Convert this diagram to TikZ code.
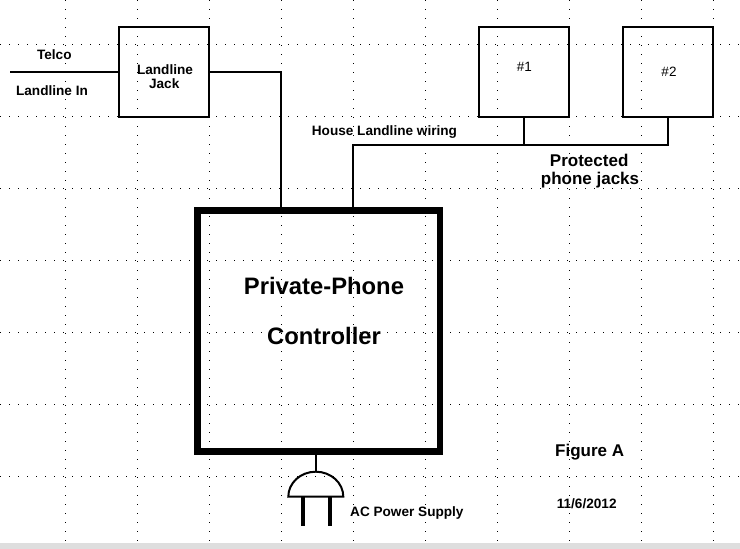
\documentclass[tikz,border=0pt]{standalone}
\usepackage{fontspec}
\setmainfont{Liberation Sans}
\usepackage{tikz}
\usetikzlibrary{positioning}

\tikzset{
  gridline/.style={line width=1.2pt, black, dash pattern=on 1.2pt off 7.8pt},
  wire/.style={line width=2pt},
  jackbox/.style={draw, line width=2pt, minimum size=90pt, inner sep=0pt},
  lbl/.style={font=\bfseries\fontsize{13.6}{14.3}\selectfont, inner sep=0pt, anchor=base},
  numlbl/.style={font=\fontsize{13.5}{14}\selectfont, inner sep=0pt, anchor=base},
  mid/.style={font=\bfseries\fontsize{17}{18}\selectfont, inner sep=0pt, anchor=base},
  big/.style={font=\bfseries\fontsize{23.8}{25}\selectfont, inner sep=0pt, anchor=base}
}

\begin{document}
\begin{tikzpicture}[x=1pt, y=-1pt]
        \useasboundingbox (0,0) rectangle (740,549);
        \fill[white] (0,0) rectangle (740,549);
        % dotted grid
        \foreach \gx in {0,...,9}
          \draw[gridline] (65.2+72*\gx,0) -- (65.2+72*\gx,543);
        \foreach \gy in {0,...,6}
          \draw[gridline] (0,44.7+72*\gy) -- (740,44.7+72*\gy);
        \fill[black!13] (0,543.3) rectangle (740,549);

        % jacks
        \node[jackbox] (jack) at (164.2,71.7) {};
        \node[jackbox] (jk1) at (524,71.7) {};
        \node[jackbox] (jk2) at (668.3,71.7) {};
        \node[draw, line width=6.5pt, minimum width=242.5pt, minimum height=241pt] (ctrl) at (318.75,331) {};

        \coordinate (telco) at (10,71.7);
        \coordinate (wa) at (281,71.7);
        \coordinate (hb) at (353.3,145);
        \coordinate (hj) at (668.3,145);
        \coordinate (plug) at (315.8,496.7);
        \coordinate (plugtop) at (315.8,471.7);

        % wiring
        \draw[wire] (telco) -- (jack.west);
        \draw[wire] (jack.east) -| (ctrl.north -| wa);
        \draw[wire] (ctrl.north -| hb) |- (hj) -- (jk2.south);
        \draw[wire] (jk1.south) -- (jk1.south |- hb);

        % plug
        \draw[wire] (ctrl.south -| plug) -- (plugtop);
        \draw[wire] (plug) ++(27.5,0) arc[start angle=0, end angle=180, x radius=27.5pt, y radius=25pt] -- cycle;
        \draw[line width=4pt] (plug) ++(-12.5,0) -- ++(0,29.3);
        \draw[line width=4pt] (plug) ++(14.2,0) -- ++(0,29.3);

        % labels
        \node[lbl] (telcotxt) at (54.3,59) {Telco};
        \node[lbl] (intxt) at (52,95.7) {Landline In};
        \node[lbl] (jacktxt) at (165,74) {Landline};
        \node[lbl] (jacktxt2) at (164.2,88.3) {Jack};
        \node[numlbl] (jk1txt) at (524.3,71) {\#1};
        \node[numlbl] (jk2txt) at (669,76) {\#2};
        \node[lbl, anchor=base west] (housetxt) at (311.7,135) {House Landline wiring};
        \node[mid] (prottxt) at (589.2,166.7) {Protected};
        \node[mid] (prottxt2) at (590,184.5) {phone jacks};
        \node[big] (ctrltxt) at (324,294) {Private-Phone};
        \node[big] (ctrltxt2) at (324,344) {Controller};
        \node[mid] (figtxt) at (589.7,456.7) {Figure A};
        \node[lbl] (datetxt) at (586.7,508.3) {11/6/2012};
        \node[lbl, anchor=base west] (actxt) at (350,516) {AC Power Supply};
\end{tikzpicture}
\end{document}
